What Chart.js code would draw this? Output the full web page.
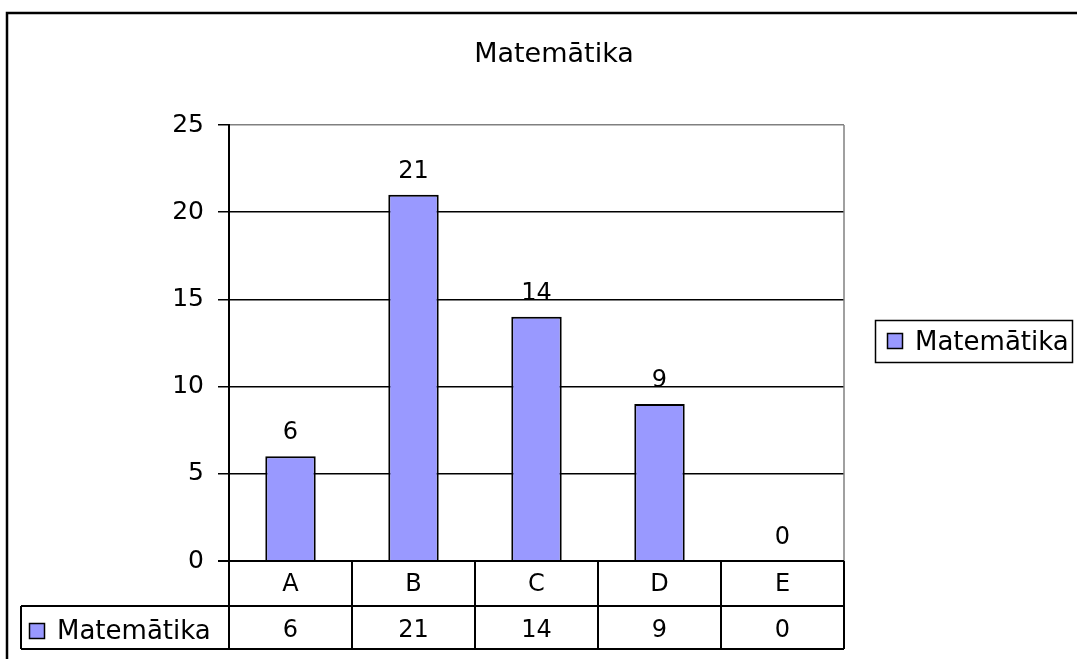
<!DOCTYPE html>
<html>
<head>
<meta charset="utf-8">
<script src="https://cdn.jsdelivr.net/npm/chart.js@4"></script>
<style>
  html, body { margin: 0; padding: 0; background: #fff; }
  canvas { display: block; }
</style>
</head>
<body>
<canvas id="c" width="1077" height="659"></canvas>
<script>
const chartTitle = "Matemātika";
const categories = ["A", "B", "C", "D", "E"];
const seriesName = "Matemātika";
const seriesValues = [6, 21, 14, 9, 0];
const yTicks = [0, 5, 10, 15, 20, 25];

const FONT = '"DejaVu Sans", "Liberation Sans", Arial, sans-serif';
const BAR_COLOR = '#9999FF';

const decorations = {
  id: 'decorations',
  afterDraw(chart) {
    const ctx = chart.ctx;
    const area = chart.chartArea;
    const xs = chart.scales.x;
    const meta = chart.getDatasetMeta(0);
    ctx.save();

    // outer chart border
    ctx.strokeStyle = '#000';
    ctx.lineWidth = 2.5;
    ctx.beginPath();
    ctx.moveTo(7, 700);
    ctx.lineTo(7, 13);
    ctx.lineTo(1100, 13);
    ctx.stroke();

    // plot area right border (gray)
    ctx.strokeStyle = '#808080';
    ctx.lineWidth = 1.5;
    ctx.beginPath();
    ctx.moveTo(area.right, area.top);
    ctx.lineTo(area.right, area.bottom);
    ctx.stroke();

    // title
    ctx.fillStyle = '#000';
    ctx.font = '27px ' + FONT;
    ctx.textAlign = 'center';
    ctx.textBaseline = 'middle';
    ctx.fillText(chartTitle, 554, 55);

    // data labels
    ctx.font = '24px ' + FONT;
    ctx.textBaseline = 'alphabetic';
    meta.data.forEach((bar, i) => {
      ctx.fillText(String(seriesValues[i]), bar.x, bar.y - 17);
    });

    // data table
    const catW = (area.right - area.left) / categories.length;
    const rowTop = area.bottom;
    const rowMid = 606;
    const rowBot = 649;
    const tableLeft = 21;
    ctx.strokeStyle = '#000';
    ctx.lineWidth = 2;
    ctx.beginPath();
    ctx.moveTo(area.left - 11, rowTop);
    ctx.lineTo(area.right, rowTop);
    ctx.moveTo(tableLeft, rowMid);
    ctx.lineTo(area.right, rowMid);
    ctx.moveTo(tableLeft, rowBot);
    ctx.lineTo(area.right, rowBot);
    ctx.moveTo(tableLeft, rowMid);
    ctx.lineTo(tableLeft, rowBot);
    for (let i = 0; i <= categories.length; i++) {
      const xx = area.left + i * catW;
      ctx.moveTo(xx, rowTop);
      ctx.lineTo(xx, rowBot);
    }
    ctx.stroke();

    ctx.font = '24px ' + FONT;
    ctx.textAlign = 'center';
    ctx.textBaseline = 'middle';
    categories.forEach((c, i) => {
      const cx = xs.getPixelForValue(i);
      ctx.fillText(c, cx, 585);
      ctx.fillText(String(seriesValues[i]), cx, 631);
    });

    // table legend key
    ctx.fillStyle = BAR_COLOR;
    ctx.fillRect(29, 623, 16, 16);
    ctx.strokeStyle = '#000';
    ctx.lineWidth = 1.5;
    ctx.strokeRect(29.5, 623.5, 15, 15);
    ctx.fillStyle = '#000';
    ctx.textAlign = 'left';
    ctx.font = '26px ' + FONT;
    ctx.fillText(seriesName, 57, 632);

    // legend box
    ctx.lineWidth = 1.5;
    ctx.strokeRect(875.5, 320.5, 197, 42);
    ctx.fillStyle = BAR_COLOR;
    ctx.fillRect(887, 333, 16, 16);
    ctx.strokeStyle = '#000';
    ctx.strokeRect(887.5, 333.5, 15, 15);
    ctx.fillStyle = '#000';
    ctx.fillText(seriesName, 915, 343);

    ctx.restore();
  }
};

new Chart(document.getElementById('c'), {
  type: 'bar',
  data: {
    labels: categories,
    datasets: [{
      label: seriesName,
      data: seriesValues,
      backgroundColor: BAR_COLOR,
      borderColor: '#000',
      borderWidth: 2,
      barPercentage: 0.41,
      categoryPercentage: 1.0
    }]
  },
  options: {
    responsive: false,
    devicePixelRatio: 1,
    animation: false,
    layout: { padding: { left: 0, top: 125, right: 233, bottom: 98 } },
    plugins: {
      legend: { display: false },
      title: { display: false },
      tooltip: { enabled: false }
    },
    scales: {
      x: { display: false },
      y: {
        min: yTicks[0],
        max: yTicks[yTicks.length - 1],
        afterFit(scale) { scale.width = 229; },
        afterBuildTicks(scale) { scale.ticks = yTicks.map(v => ({ value: v })); },
        ticks: {
          font: { family: FONT, size: 25 },
          color: '#000',
          padding: 14
        },
        grid: {
          color: (c) => (c.tick && c.tick.value === 25) ? '#808080' : '#000',
          tickColor: '#000',
          tickLength: 11,
          lineWidth: 1.5
        },
        border: { display: true, color: '#000', width: 2 }
      }
    }
  },
  plugins: [decorations]
});
</script>
</body>
</html>
